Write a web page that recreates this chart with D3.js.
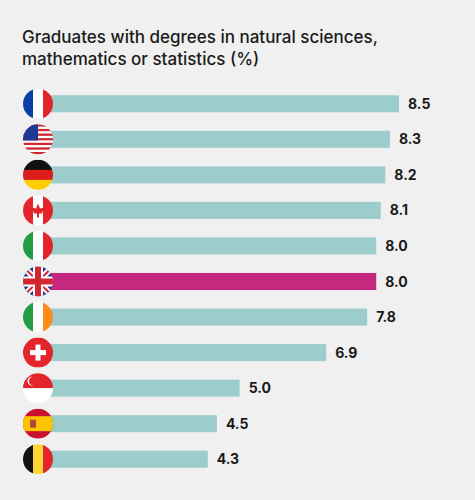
<!DOCTYPE html>
<html><head><meta charset="utf-8">
<script src="https://cdn.jsdelivr.net/npm/d3@7"></script>
<style>body{margin:0;background:#f0f0f0;font-family:Inter,"Noto Sans",sans-serif}</style>
</head><body><svg id="chart"></svg>
<script>
const countries = ['France','USA','Germany','Canada','Italy','UK','Ireland','Switzerland','Singapore','Spain','Belgium'];
const values = [8.5, 8.3, 8.2, 8.1, 8.0, 8.0, 7.8, 6.9, 5.0, 4.5, 4.3];
const highlight = 'UK';

const W = 475, H = 500;
const svg = d3.select('#chart').attr('width', W).attr('height', H);
svg.append('rect').attr('width', W).attr('height', H).attr('fill', '#f0f0f0');

svg.append('text').attr('x', 22).attr('y', 43).text('Graduates with degrees in natural sciences,')
    .attr('font-size', 17).attr('font-weight', 500).attr('fill', '#1a1a1a');
svg.append('text').attr('x', 22).attr('y', 65).text('mathematics or statistics (%)')
    .attr('font-size', 17).attr('font-weight', 500).attr('fill', '#1a1a1a');

const x = d3.scaleLinear().domain([0, 8.5]).range([12, 399]);
const y = d3.scaleBand().domain(countries).range([86, 477]).paddingInner(0.52).paddingOuter(0.26);

const rows = svg.selectAll('g.row').data(countries).join('g').attr('class', 'row');

rows.append('rect')
    .attr('x', 40)
    .attr('y', d => y(d))
    .attr('width', (d, i) => x(values[i]) - 40)
    .attr('height', y.bandwidth())
    .attr('fill', d => d === highlight ? '#c7287f' : '#9ccccc');

rows.append('text')
    .attr('x', (d, i) => x(values[i]) + 9)
    .attr('y', d => y(d) + y.bandwidth() / 2 + 5)
    .text((d, i) => values[i].toFixed(1))
    .attr('font-size', 14).attr('font-weight', 700).attr('fill', '#1a1a1a');

// flags
const R = 15, cx = 38;
const defs = svg.append('defs');
function flag(name, cy) {
    const id = 'clip-' + name;
    defs.append('clipPath').attr('id', id).append('circle').attr('cx', cx).attr('cy', cy).attr('r', R);
    const g = svg.append('g').attr('clip-path', `url(#${id})`);
    const L = cx - R, T = cy - R, S = 2 * R;
    const rect = (x0, y0, w, h, c) => g.append('rect').attr('x', x0).attr('y', y0).attr('width', w).attr('height', h).attr('fill', c);
    const vert = cs => cs.forEach((c, i) => rect(L + i * S / cs.length, T, S / cs.length + 0.5, S, c));
    const horiz = cs => cs.forEach((c, i) => rect(L, T + i * S / cs.length, S, S / cs.length + 0.5, c));
    switch (name) {
        case 'France': vert(['#0a3fa8', '#ffffff', '#e3242b']); break;
        case 'Italy': vert(['#239c46', '#ffffff', '#e3242b']); break;
        case 'Ireland': vert(['#239c46', '#ffffff', '#ff8c1a']); break;
        case 'Belgium': vert(['#111111', '#fdd835', '#e3242b']); break;
        case 'Germany': horiz(['#111111', '#dd1c1c', '#ffce00']); break;
        case 'Singapore': horiz(['#e3242b', '#ffffff']);
            g.append('circle').attr('cx', cx - 6).attr('cy', cy - 7).attr('r', 4.5).attr('fill', '#fff');
            g.append('circle').attr('cx', cx - 4.5).attr('cy', cy - 7).attr('r', 4.5).attr('fill', '#e3242b'); break;
        case 'Spain': rect(L, T, S, S, '#c8102e'); rect(L, T + S / 4, S, S / 2, '#ffc400');
            rect(cx - 8, cy - 4, 6, 8, '#b5473a'); break;
        case 'Canada': vert(['#e3242b', '#ffffff', '#e3242b']);
            g.append('path').attr('d', `M${cx},${cy - 7}L${cx + 2},${cy - 2}L${cx + 6},${cy - 3}L${cx + 4},${cy + 3}L${cx + 1},${cy + 3}L${cx + 1},${cy + 7}L${cx - 1},${cy + 7}L${cx - 1},${cy + 3}L${cx - 4},${cy + 3}L${cx - 6},${cy - 3}L${cx - 2},${cy - 2}Z`).attr('fill', '#e3242b'); break;
        case 'Switzerland': rect(L, T, S, S, '#e3242b');
            rect(cx - 2.5, cy - 8, 5, 16, '#fff'); rect(cx - 8, cy - 2.5, 16, 5, '#fff'); break;
        case 'USA':
            for (let i = 0; i < 13; i++) rect(L, T + i * S / 13, S, S / 13 + 0.3, i % 2 ? '#ffffff' : '#d22630');
            rect(L, T, S * 0.5, S * 7 / 13, '#1f3a93'); break;
        case 'UK': rect(L, T, S, S, '#1f3a93');
            g.append('path').attr('d', `M${L},${T}L${L + S},${T + S}M${L + S},${T}L${L},${T + S}`).attr('stroke', '#fff').attr('stroke-width', 6);
            g.append('path').attr('d', `M${L},${T}L${L + S},${T + S}M${L + S},${T}L${L},${T + S}`).attr('stroke', '#d22630').attr('stroke-width', 2);
            rect(cx - 5, T, 10, S, '#fff'); rect(L, cy - 5, S, 10, '#fff');
            rect(cx - 3, T, 6, S, '#d22630'); rect(L, cy - 3, S, 6, '#d22630'); break;
    }
}
countries.forEach(c => flag(c, y(c) + y.bandwidth() / 2));
</script></body></html>
